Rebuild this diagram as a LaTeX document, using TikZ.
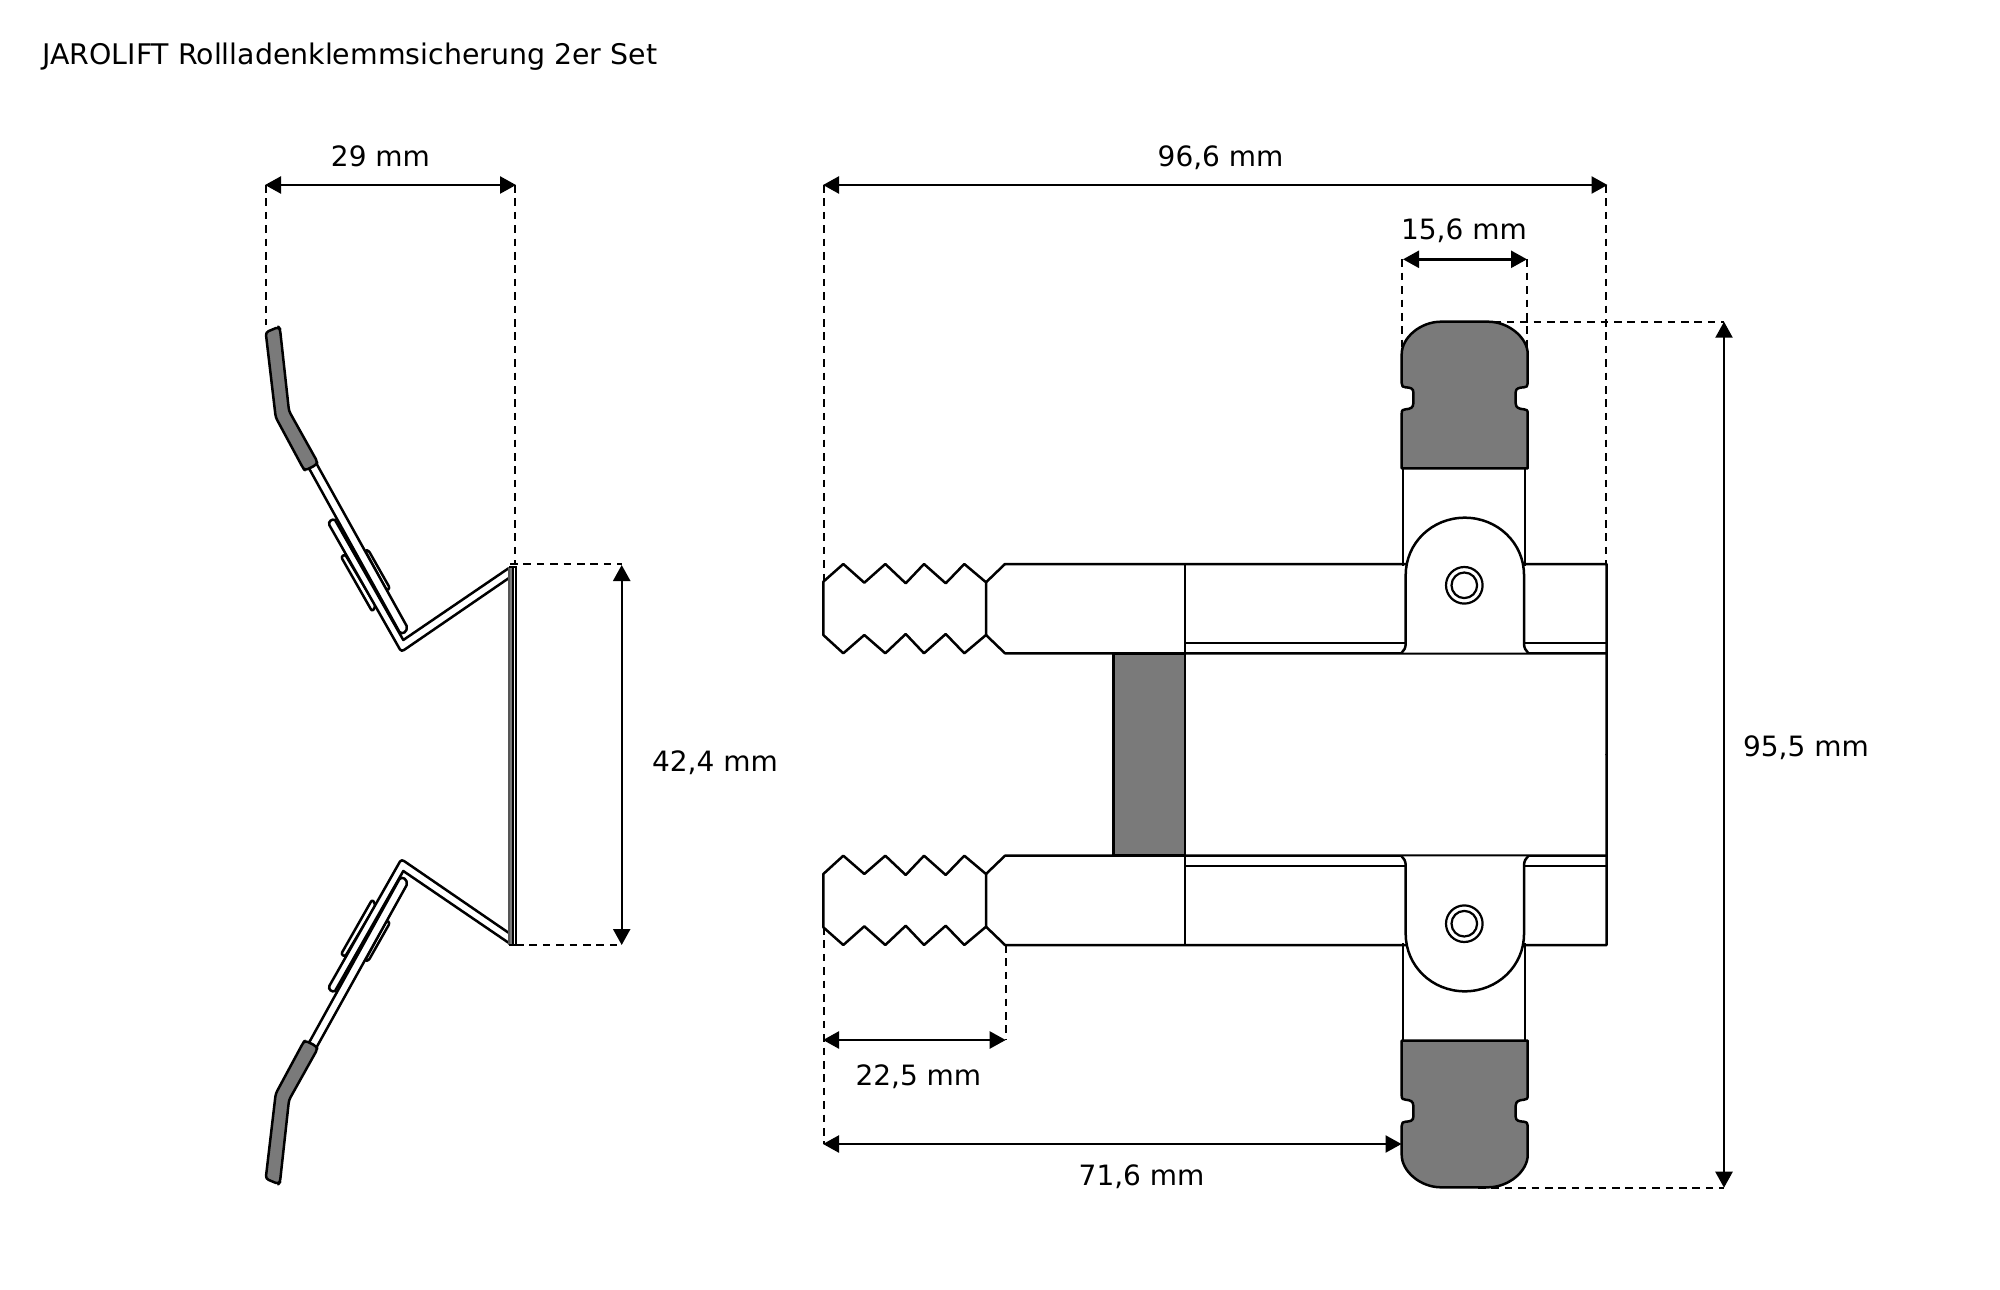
\documentclass[tikz,border=0pt]{standalone}
\usepackage{fontspec}
\setmainfont{DejaVu Sans}
\usetikzlibrary{arrows.meta}
\definecolor{partgray}{RGB}{122,122,122}
\tikzset{
  part/.style={draw=black,line width=1.25pt,line join=round},
  whitepart/.style={part,fill=white},
  graypart/.style={part,fill=partgray},
  dimline/.style={line width=1.2pt,{Triangle[length=8pt,width=8.5pt]}-{Triangle[length=8pt,width=8.5pt]}},
  extline/.style={line width=1pt,dash pattern=on 3.8pt off 2.9pt},
  dimtext/.style={font=\fontsize{14}{16}\selectfont,inner sep=0pt,anchor=center}
}
\newcommand{\sidehalf}{%
  % small plates
  \draw[whitepart,rounded corners=1.2pt] (341,556.7) -- (345,554.3) -- (375.7,605.7) -- (372.3,611.7) -- cycle;
  \draw[whitepart,rounded corners=1.2pt] (365,550.7) -- (368.3,550) -- (390,588.3) -- (386.7,590.7) -- cycle;
  % bracket
  \draw[whitepart] (508.5,568.3) -- (403.3,640) -- (335,520) .. controls (332,518.5) and (328,521.5) .. (329.3,525)
     -- (400,649.5) .. controls (401,651) and (402.5,651) .. (404,650) -- (508.5,578.3);
  % strip with grey tip
  \draw[whitepart] (309,468.3) -- (399.5,632) .. controls (402,635) and (408,632) .. (406.7,626) -- (316.7,464);
  % grey tip
  \draw[graypart,rounded corners=1.5pt] (265.7,332.3) -- (278.5,327) -- (280,329) -- (289,411) -- (317.5,462) -- (316,465) -- (305,470.5) -- (303,468) -- (275.7,417.3) -- cycle;
}
\newcommand{\fronthalf}{%
  % neck
  \draw[part,line width=1pt] (1402.7,468.3) -- (1402.7,566);
  \draw[part,line width=1pt] (1525.3,468.3) -- (1525.3,566);
  % head
  \draw[graypart] (1401.7,468.3) -- (1401.7,413.3)
     .. controls (1401.7,410) and (1403,409.5) .. (1405.5,409.3)
     .. controls (1410.5,409) and (1413.3,407.5) .. (1413.3,403.5)
     -- (1413.3,392)
     .. controls (1413.3,388.5) and (1410.5,387.5) .. (1405.5,387.3)
     .. controls (1403,387.1) and (1401.7,386.5) .. (1401.7,383.3)
     -- (1401.7,354)
     .. controls (1401.7,338) and (1420,321.7) .. (1441,321.7)
     -- (1488,321.7)
     .. controls (1509,321.7) and (1527.7,338) .. (1527.7,354)
     -- (1527.7,383.3)
     .. controls (1527.7,386.5) and (1526.4,387.1) .. (1523.9,387.3)
     .. controls (1518.9,387.5) and (1515.7,388.5) .. (1515.7,392)
     -- (1515.7,403.5)
     .. controls (1515.7,407.5) and (1518.9,409) .. (1523.9,409.3)
     .. controls (1526.4,409.5) and (1527.7,410) .. (1527.7,413.3)
     -- (1527.7,468.3) -- cycle;
  % serrated jaw
  \draw[part] (823.3,581.7) -- (843.3,564) -- (864.3,582.7) -- (885.3,564) -- (905.7,583.3) -- (924,564) -- (945.7,583.3) -- (964.3,564) -- (986,582.3)
     -- (986,635) -- (964.3,653.3) -- (945.7,634) -- (924,653.3) -- (905.7,634) -- (885.3,653.3) -- (864.3,635) -- (843.3,653.3) -- (823.3,635) -- cycle;
  % bar
  \draw[part] (986,582.3) -- (1005,564) -- (1606.7,564) -- (1606.7,755);
  \draw[part] (986,635) -- (1005,653.3) -- (1606.7,653.3);
  \draw[part] (1185,564) -- (1185,653.3);
  \draw[part,line width=1.1pt] (1185,643.3) -- (1606.7,643.3);
  % bracket dome
  \fill[white] (1401.7,652.7) .. controls (1404,650.5) and (1405.7,648) .. (1405.7,643.3) -- (1405.7,575)
     .. controls (1405.7,543) and (1432,517.7) .. (1464.8,517.7)
     .. controls (1497.5,517.7) and (1524,543) .. (1524,575)
     -- (1524,643.3) .. controls (1524,648) and (1525.7,650.5) .. (1528,652.7) -- cycle;
  \draw[part] (1401.7,652.7) .. controls (1404,650.5) and (1405.7,648) .. (1405.7,643.3) -- (1405.7,575)
     .. controls (1405.7,543) and (1432,517.7) .. (1464.8,517.7)
     .. controls (1497.5,517.7) and (1524,543) .. (1524,575)
     -- (1524,643.3) .. controls (1524,648) and (1525.7,650.5) .. (1528,652.7);
  % rivet
  \draw[part,line width=1.1pt] (1464.3,585.3) circle[radius=18.3];
  \draw[part,line width=1.1pt] (1464.3,585.3) circle[radius=12.8];
}
\begin{document}
\begin{tikzpicture}[x=0.5pt,y=-0.5pt]
\useasboundingbox (0,0) rectangle (2000,1289);
\fill[white] (0,0) rectangle (2000,1289);

% title
\node[font=\fontsize{14.2}{16}\selectfont,inner sep=0pt,anchor=base west] (title) at (42,64.5) {JAROLIFT Rollladenklemmsicherung 2er Set};

% extension lines (under the parts)
\draw[extline] (265.5,185) -- (265.5,325);
\draw[extline] (514.5,185) -- (514.5,564);
\draw[extline] (510,564) -- (621.7,564);
\draw[extline] (516,945) -- (621.7,945);
\draw[extline] (823.8,185) -- (823.8,582);
\draw[extline] (1606.3,185) -- (1606.3,564);
\draw[extline] (1401.7,259.3) -- (1401.7,350);
\draw[extline] (1527,259.3) -- (1527,350);
\draw[extline] (1480,321.7) -- (1724,321.7);
\draw[extline] (1478,1187.7) -- (1724,1187.7);
\draw[extline] (823.8,927) -- (823.8,1144);
\draw[extline] (1005.7,945) -- (1005.7,1040);

% side view
\sidehalf
\begin{scope}[shift={(0,1511)},yscale=-1]
  \sidehalf
\end{scope}
\fill[partgray] (509,566.5) rectangle (512.3,945);
\draw[line width=1pt,draw=partgray!70!black] (509,566.5) -- (509,945);
\draw[line width=1pt] (512.5,566.5) -- (512.5,945);
\draw[line width=1pt] (509,566.5) -- (515.7,566.5) -- (515.7,945) -- (509,945);

% front view
\draw[graypart] (1113.5,653.3) rectangle (1185,855.7);
\fronthalf
\begin{scope}[shift={(0,1509)},yscale=-1]
  \fronthalf
\end{scope}

% dimension arrows
\coordinate (a1) at (265,185); \coordinate (a2) at (516,185);
\coordinate (b1) at (823,185); \coordinate (b2) at (1607.5,185);
\coordinate (c1) at (1403,259.3); \coordinate (c2) at (1527,259.3);
\coordinate (d1) at (1724,321.7); \coordinate (d2) at (1724,1187.7);
\coordinate (e1) at (621.7,565); \coordinate (e2) at (621.7,945);
\coordinate (f1) at (823,1040); \coordinate (f2) at (1005.7,1040);
\coordinate (g1) at (823,1144); \coordinate (g2) at (1401.5,1144);
\draw[dimline] (a1) -- (a2);
\draw[dimline] (b1) -- (b2);
\draw[dimline] (c1) -- (c2);
\draw[dimline] (d1) -- (d2);
\draw[dimline] (e1) -- (e2);
\draw[dimline] (f1) -- (f2);
\draw[dimline] (g1) -- (g2);

% labels
\node[dimtext] (l29) at (380.5,156.5) {29 mm};
\node[dimtext] (l966) at (1220.6,158) {96,6 mm};
\node[dimtext] (l156) at (1464,231) {15,6 mm};
\node[dimtext] (l955) at (1806,748) {95,5 mm};
\node[dimtext] (l424) at (715,763) {42,4 mm};
\node[dimtext] (l225) at (918.4,1077) {22,5 mm};
\node[dimtext] (l716) at (1141.6,1176.5) {71,6 mm};
\end{tikzpicture}
\end{document}
